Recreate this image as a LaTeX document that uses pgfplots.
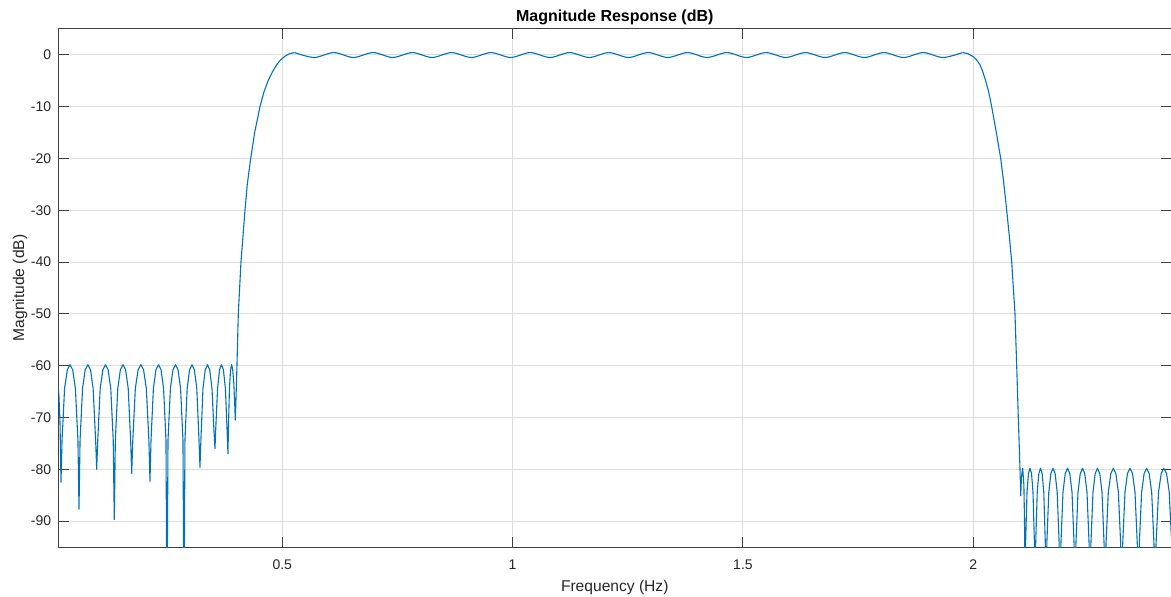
\documentclass[border=0pt]{standalone}
\usepackage{pgfplots}
\pgfplotsset{compat=1.18}
\usepackage{fontspec}
\setmainfont{Liberation Sans}
\definecolor{mblue}{RGB}{0,114,189}
\definecolor{mtext}{RGB}{38,38,38}
\begin{document}
\begin{tikzpicture}
\begin{axis}[
  at={(0,0)}, anchor=south west,
  scale only axis, width=556.25pt, height=259pt,
  xmin=0.0142, xmax=2.4292, ymin=-95, ymax=5,
  xtick={0.5,1,1.5,2}, ytick={-90,-80,-70,-60,-50,-40,-30,-20,-10,0},
  /pgf/number format/assume math mode=true,
  tick pos=both, tick align=inside, major tick length=5pt,
  tick style={black!75, line width=0.5pt},
  axis line style={black!75, line width=0.5pt},
  grid=major, major grid style={black!13, line width=0.5pt},
  xticklabel style={font=\fontsize{7pt}{8pt}\selectfont, text=mtext, anchor=north, inner sep=0pt, yshift=-6pt},
  yticklabel style={font=\fontsize{7pt}{8pt}\selectfont, text=mtext, anchor=east, inner sep=0pt, xshift=-3.5pt},
  title={Magnitude Response (dB)},
  title style={font=\bfseries\fontsize{8pt}{9pt}\selectfont, text=black, at={(axis description cs:0.5,1.0154)}, anchor=base, yshift=-6pt},
  xlabel={Frequency (Hz)},
  xlabel style={font=\fontsize{7.8pt}{9pt}\selectfont, text=mtext, at={(axis description cs:0.5,-0.085)}, anchor=base},
  ylabel={Magnitude (dB)},
  ylabel style={font=\fontsize{7.8pt}{9pt}\selectfont, text=mtext, at={(axis description cs:-0.031,0.5)}, anchor=base},
]
% left stopband and transition
\addplot[mblue, line width=0.55pt, line join=round] coordinates {
(0.0005,-59.8) (0.0060,-61) (0.0120,-62.8) (0.0150,-65.5) (0.0175,-71) (0.0196,-82.5)
(0.0219,-74.4) (0.0274,-64.4) (0.0333,-60.8) (0.0392,-59.8) (0.0450,-60.8) (0.0509,-64.4) (0.0564,-74.4) (0.0587,-87.7)
(0.0610,-74.4) (0.0664,-64.4) (0.0721,-60.8) (0.0779,-59.8) (0.0837,-60.8) (0.0894,-64.4) (0.0948,-74.4) (0.0971,-80.0)
(0.0994,-74.4) (0.1047,-64.4) (0.1105,-60.8) (0.1162,-59.8) (0.1219,-60.8) (0.1277,-64.4) (0.1330,-74.4) (0.1353,-89.7)
(0.1376,-74.4) (0.1429,-64.4) (0.1485,-60.8) (0.1542,-59.8) (0.1599,-60.8) (0.1655,-64.4) (0.1708,-74.4) (0.1731,-80.8)
(0.1755,-74.4) (0.1810,-64.4) (0.1870,-60.8) (0.1930,-59.8) (0.1989,-60.8) (0.2049,-64.4) (0.2104,-74.4) (0.2128,-82.3)
(0.2150,-74.4) (0.2202,-64.4) (0.2257,-60.8) (0.2313,-59.8) (0.2368,-60.8) (0.2423,-64.4) (0.2475,-74.4) (0.2497,-110)
(0.2519,-74.4) (0.2571,-64.4) (0.2626,-60.8) (0.2682,-59.8) (0.2737,-60.8) (0.2792,-64.4) (0.2844,-74.4) (0.2866,-110)
(0.2887,-74.4) (0.2935,-64.4) (0.2987,-60.8) (0.3040,-59.8) (0.3092,-60.8) (0.3144,-64.4) (0.3192,-74.4) (0.3213,-79.6)
(0.3233,-74.4) (0.3278,-64.4) (0.3327,-60.8) (0.3376,-59.8) (0.3425,-60.8) (0.3474,-64.4) (0.3519,-73.0) (0.3539,-76.0)
(0.3556,-72.0) (0.3595,-64.4) (0.3638,-60.8) (0.3680,-59.8) (0.3722,-60.8) (0.3765,-64.4) (0.3804,-73.0) (0.3821,-77.0)
(0.3831,-72.0) (0.3853,-64.4) (0.3877,-60.8) (0.3901,-59.8) (0.3924,-60.8) (0.3948,-63.5) (0.3970,-68.0) (0.3980,-70.5)
(0.4010,-62) (0.4045,-50) (0.4103,-40) (0.4190,-30) (0.4240,-25) (0.4314,-20) (0.4400,-15) (0.4516,-10) (0.4600,-7.2) (0.4696,-4.9) (0.4790,-3.2) (0.4878,-1.9) (0.4970,-0.9) (0.5059,-0.25) (0.5150,0.2) (0.5265,0.45)
};
% passband ripple
\addplot[mblue, line width=0.55pt, smooth] coordinates {
(0.5265,0.45) (0.5691,-0.5) (0.6118,0.45) (0.6545,-0.5) (0.6971,0.45) (0.7398,-0.5) (0.7824,0.45) (0.8251,-0.5) (0.8677,0.45) (0.9104,-0.5) (0.9530,0.45) (0.9957,-0.5) (1.0383,0.45) (1.0810,-0.5) (1.1237,0.45) (1.1663,-0.5) (1.2090,0.45) (1.2516,-0.5) (1.2943,0.45) (1.3369,-0.5) (1.3796,0.45) (1.4222,-0.5) (1.4649,0.45) (1.5075,-0.5) (1.5502,0.45) (1.5929,-0.5) (1.6355,0.45) (1.6782,-0.5) (1.7208,0.45) (1.7635,-0.5) (1.8061,0.45) (1.8488,-0.5) (1.8914,0.45) (1.9341,-0.5) (1.9767,0.45)
};
% right transition and stopband
\addplot[mblue, line width=0.55pt, line join=round] coordinates {
(1.9767,0.45) (1.9880,0.25) (2.0000,-0.35) (2.0072,-0.95) (2.0144,-1.9) (2.0200,-3.1) (2.0255,-4.6) (2.0330,-7.0) (2.0400,-10) (2.0500,-15) (2.0595,-20) (2.0665,-25) (2.0725,-30) (2.0782,-35) (2.0834,-40) (2.0905,-50) (2.0942,-60) (2.0977,-70) (2.1014,-80) (2.1030,-85.1)
(2.1045,-81.5) (2.1072,-79.8) (2.1098,-83) (2.1112,-90) (2.1122,-110)
(2.1135,-94.4) (2.1166,-84.4) (2.1198,-80.8) (2.1231,-79.8) (2.1264,-80.8) (2.1296,-84.4) (2.1327,-94.4) (2.1340,-110)
(2.1354,-94.4) (2.1388,-84.4) (2.1423,-80.8) (2.1459,-79.8) (2.1495,-80.8) (2.1530,-84.4) (2.1564,-94.4) (2.1578,-110)
(2.1596,-94.4) (2.1639,-84.4) (2.1684,-80.8) (2.1730,-79.8) (2.1776,-80.8) (2.1821,-84.4) (2.1864,-94.4) (2.1882,-110)
(2.1902,-94.4) (2.1947,-84.4) (2.1996,-80.8) (2.2045,-79.8) (2.2094,-80.8) (2.2143,-84.4) (2.2188,-94.4) (2.2208,-110)
(2.2228,-94.4) (2.2273,-84.4) (2.2322,-80.8) (2.2371,-79.8) (2.2419,-80.8) (2.2468,-84.4) (2.2514,-94.4) (2.2533,-110)
(2.2553,-94.4) (2.2598,-84.4) (2.2647,-80.8) (2.2696,-79.8) (2.2745,-80.8) (2.2794,-84.4) (2.2839,-94.4) (2.2859,-110)
(2.2881,-94.4) (2.2931,-84.4) (2.2986,-80.8) (2.3040,-79.8) (2.3094,-80.8) (2.3149,-84.4) (2.3199,-94.4) (2.3221,-110)
(2.3243,-94.4) (2.3293,-84.4) (2.3347,-80.8) (2.3402,-79.8) (2.3456,-80.8) (2.3510,-84.4) (2.3560,-94.4) (2.3582,-110)
(2.3604,-94.4) (2.3654,-84.4) (2.3709,-80.8) (2.3763,-79.8) (2.3817,-80.8) (2.3872,-84.4) (2.3922,-94.4) (2.3944,-110)
(2.3967,-94.4) (2.4021,-84.4) (2.4079,-80.8) (2.4137,-79.8) (2.4195,-80.8) (2.4253,-84.4) (2.4307,-94.4) (2.4330,-110)
};
\end{axis}
\pgfresetboundingbox
\path[use as bounding box] (-29.25pt,-24.5pt) rectangle (556.25pt,273.5pt);
\end{tikzpicture}
\end{document}
